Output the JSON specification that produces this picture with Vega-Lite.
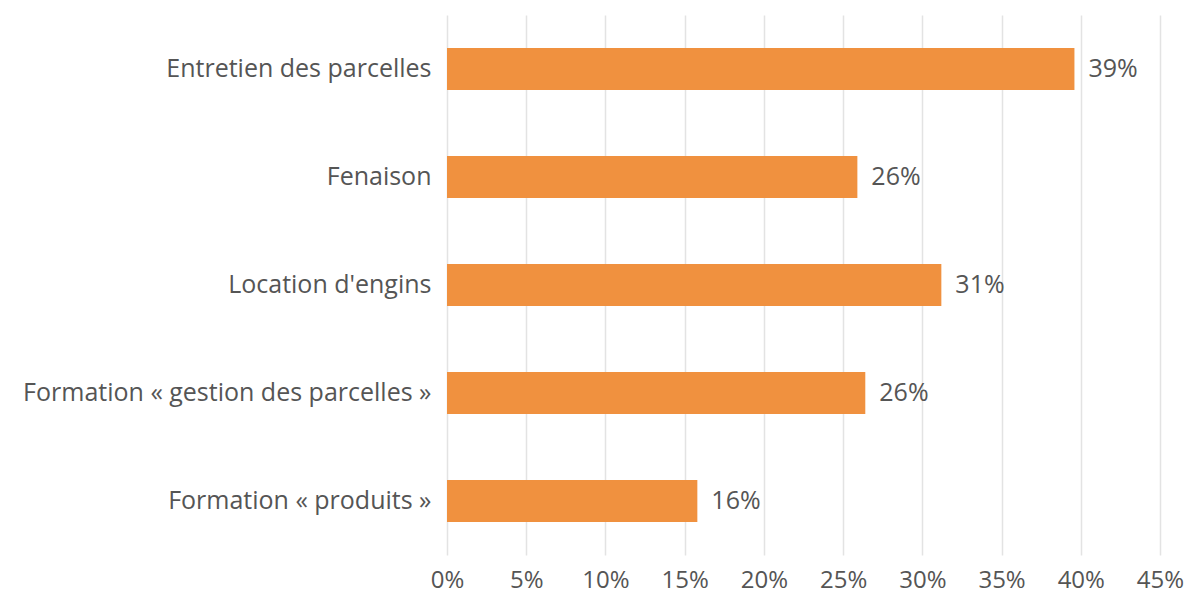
{
  "$schema": "https://vega.github.io/schema/vega-lite/v6.json",
  "autosize": {"type": "none"},
  "padding": {"left": 447, "top": 15, "right": 29, "bottom": 41},
  "width": 713,
  "height": 540,
  "background": "white",
  "config": {
    "view": {"stroke": null},
    "font": "Open Sans",
    "axis": {"labelFont": "Open Sans", "labelColor": "#555555", "labelFontSize": 25}
  },
  "data": {
    "values": [
      {"categorie": "Entretien des parcelles", "part": 0.396, "etiquette": "39%"},
      {"categorie": "Fenaison", "part": 0.259, "etiquette": "26%"},
      {"categorie": "Location d'engins", "part": 0.312, "etiquette": "31%"},
      {"categorie": "Formation « gestion des parcelles »", "part": 0.264, "etiquette": "26%"},
      {"categorie": "Formation « produits »", "part": 0.158, "etiquette": "16%"}
    ]
  },
  "encoding": {
    "y": {
      "field": "categorie",
      "type": "nominal",
      "sort": null,
      "title": null,
      "scale": {"paddingInner": 0.61, "paddingOuter": 0.305},
      "axis": {"domain": false, "ticks": false, "labelPadding": 16, "labelLimit": 500}
    },
    "x": {
      "field": "part",
      "type": "quantitative",
      "title": null,
      "scale": {"domain": [0, 0.45], "nice": false},
      "axis": {
        "values": [0, 0.05, 0.1, 0.15, 0.2, 0.25, 0.3, 0.35, 0.4, 0.45],
        "format": ".0%",
        "domain": false,
        "ticks": false,
        "grid": true,
        "gridColor": "#e3e3e3",
        "gridWidth": 1.5,
        "labelFlush": false,
        "labelFontSize": 24,
        "labelPadding": 13
      }
    }
  },
  "layer": [
    {"mark": {"type": "bar", "color": "#F0913F"}},
    {
      "mark": {"type": "text", "align": "left", "dx": 14, "fontSize": 25, "color": "#555555", "font": "Open Sans"},
      "encoding": {"text": {"field": "etiquette"}}
    }
  ]
}
